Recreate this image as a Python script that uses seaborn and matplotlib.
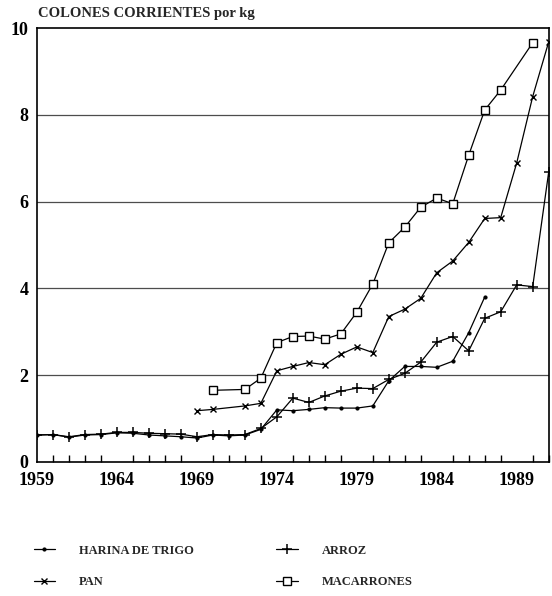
import pandas as pd
import matplotlib.pyplot as plt
import seaborn as sns
from matplotlib.ticker import MultipleLocator

# Data (colones corrientes por kg)
harina_years = list(range(1959, 1988))
harina_vals = [0.62, 0.63, 0.57, 0.62, 0.63, 0.67, 0.66, 0.62, 0.60, 0.58,
               0.55, 0.62, 0.60, 0.62, 0.75, 1.20, 1.18, 1.21, 1.25, 1.24,
               1.24, 1.29, 1.87, 2.20, 2.20, 2.18, 2.32, 2.98, 3.80]

arroz_years = list(range(1959, 1992))
arroz_vals = [0.62, 0.63, 0.58, 0.63, 0.64, 0.68, 0.68, 0.66, 0.65, 0.64,
              0.58, 0.63, 0.62, 0.63, 0.77, 1.04, 1.47, 1.37, 1.52, 1.63,
              1.70, 1.69, 1.90, 2.04, 2.30, 2.76, 2.89, 2.56, 3.31, 3.46,
              4.08, 4.04, 6.68]

pan_years = [1969, 1970, 1972, 1973, 1974, 1975, 1976, 1977, 1978, 1979,
             1980, 1981, 1982, 1983, 1984, 1985, 1986, 1987, 1988, 1989,
             1990, 1991]
pan_vals = [1.18, 1.21, 1.29, 1.35, 2.10, 2.20, 2.29, 2.24, 2.48, 2.65,
            2.52, 3.35, 3.52, 3.77, 4.36, 4.63, 5.06, 5.61, 5.63, 6.89,
            8.42, 9.68]

macarrones_years = [1970, 1972, 1973, 1974, 1975, 1976, 1977, 1978, 1979,
                    1980, 1981, 1982, 1983, 1984, 1985, 1986, 1987, 1988, 1990]
macarrones_vals = [1.65, 1.67, 1.93, 2.75, 2.89, 2.90, 2.83, 2.95, 3.45,
                   4.10, 5.05, 5.41, 5.87, 6.08, 5.95, 7.07, 8.11, 8.57, 9.66]

x_ticks = [1959, 1964, 1969, 1974, 1979, 1984, 1989]
y_ticks = [0, 2, 4, 6, 8, 10]

sns.set_theme(style="white")
plt.rcParams['font.family'] = ['Liberation Serif', 'DejaVu Serif']
plt.rcParams['font.weight'] = 'bold'

fig = plt.figure(figsize=(5.52, 5.96), dpi=100)
ax = fig.add_axes([0.067, 0.225, 0.927, 0.728])

series = [
    ("HARINA DE TRIGO", harina_years, harina_vals, dict(marker='.', markersize=4.5)),
    ("PAN", pan_years, pan_vals, dict(marker='x', markersize=5, markeredgewidth=1.0)),
    ("ARROZ", arroz_years, arroz_vals, dict(marker='+', markersize=7.5, markeredgewidth=1.1)),
    ("MACARRONES", macarrones_years, macarrones_vals,
     dict(marker='s', markersize=5.5, markerfacecolor='white', markeredgewidth=1.0)),
]

for name, yrs, vals, style in series:
    df = pd.DataFrame({"year": yrs, "value": vals})
    sns.lineplot(data=df, x="year", y="value", ax=ax, color='black',
                 linewidth=0.9, label=name, markeredgecolor='black', **style)

ax.set_xlim(1959, 1991)
ax.set_ylim(0, 10)
ax.set_xticks(x_ticks)
ax.xaxis.set_minor_locator(MultipleLocator(1))
ax.set_yticks(y_ticks)
ax.set_xlabel("")
ax.set_ylabel("")

for y in y_ticks[1:-1]:
    ax.axhline(y, color='0.3', linewidth=0.9, zorder=0)

for spine in ax.spines.values():
    spine.set_visible(True)
    spine.set_color('black')
    spine.set_linewidth(1.2)

ax.tick_params(axis='x', which='major', direction='inout', length=9, width=1.1,
               labelsize=13, pad=3, colors='black')
ax.tick_params(axis='x', which='minor', direction='in', length=5, width=1.0,
               bottom=True, colors='black')
ax.tick_params(axis='y', which='major', length=0, labelsize=13, pad=6, colors='black')
for lbl in ax.get_xticklabels() + ax.get_yticklabels():
    lbl.set_fontweight('bold')

fig.text(0.068, 0.972, "COLONES CORRIENTES por kg", fontsize=10.5,
         fontweight='bold', ha='left', va='baseline')

handles, labels = ax.get_legend_handles_labels()
ax.get_legend().remove()
fig.legend(handles, labels,
           loc='upper left', bbox_to_anchor=(0.0405, 0.105), ncol=2,
           frameon=False, handlelength=1.7, handletextpad=1.9,
           columnspacing=6.64, labelspacing=1.58,
           prop={'weight': 'bold', 'size': 9})

fig.savefig("out.png", dpi=100, facecolor='white')
